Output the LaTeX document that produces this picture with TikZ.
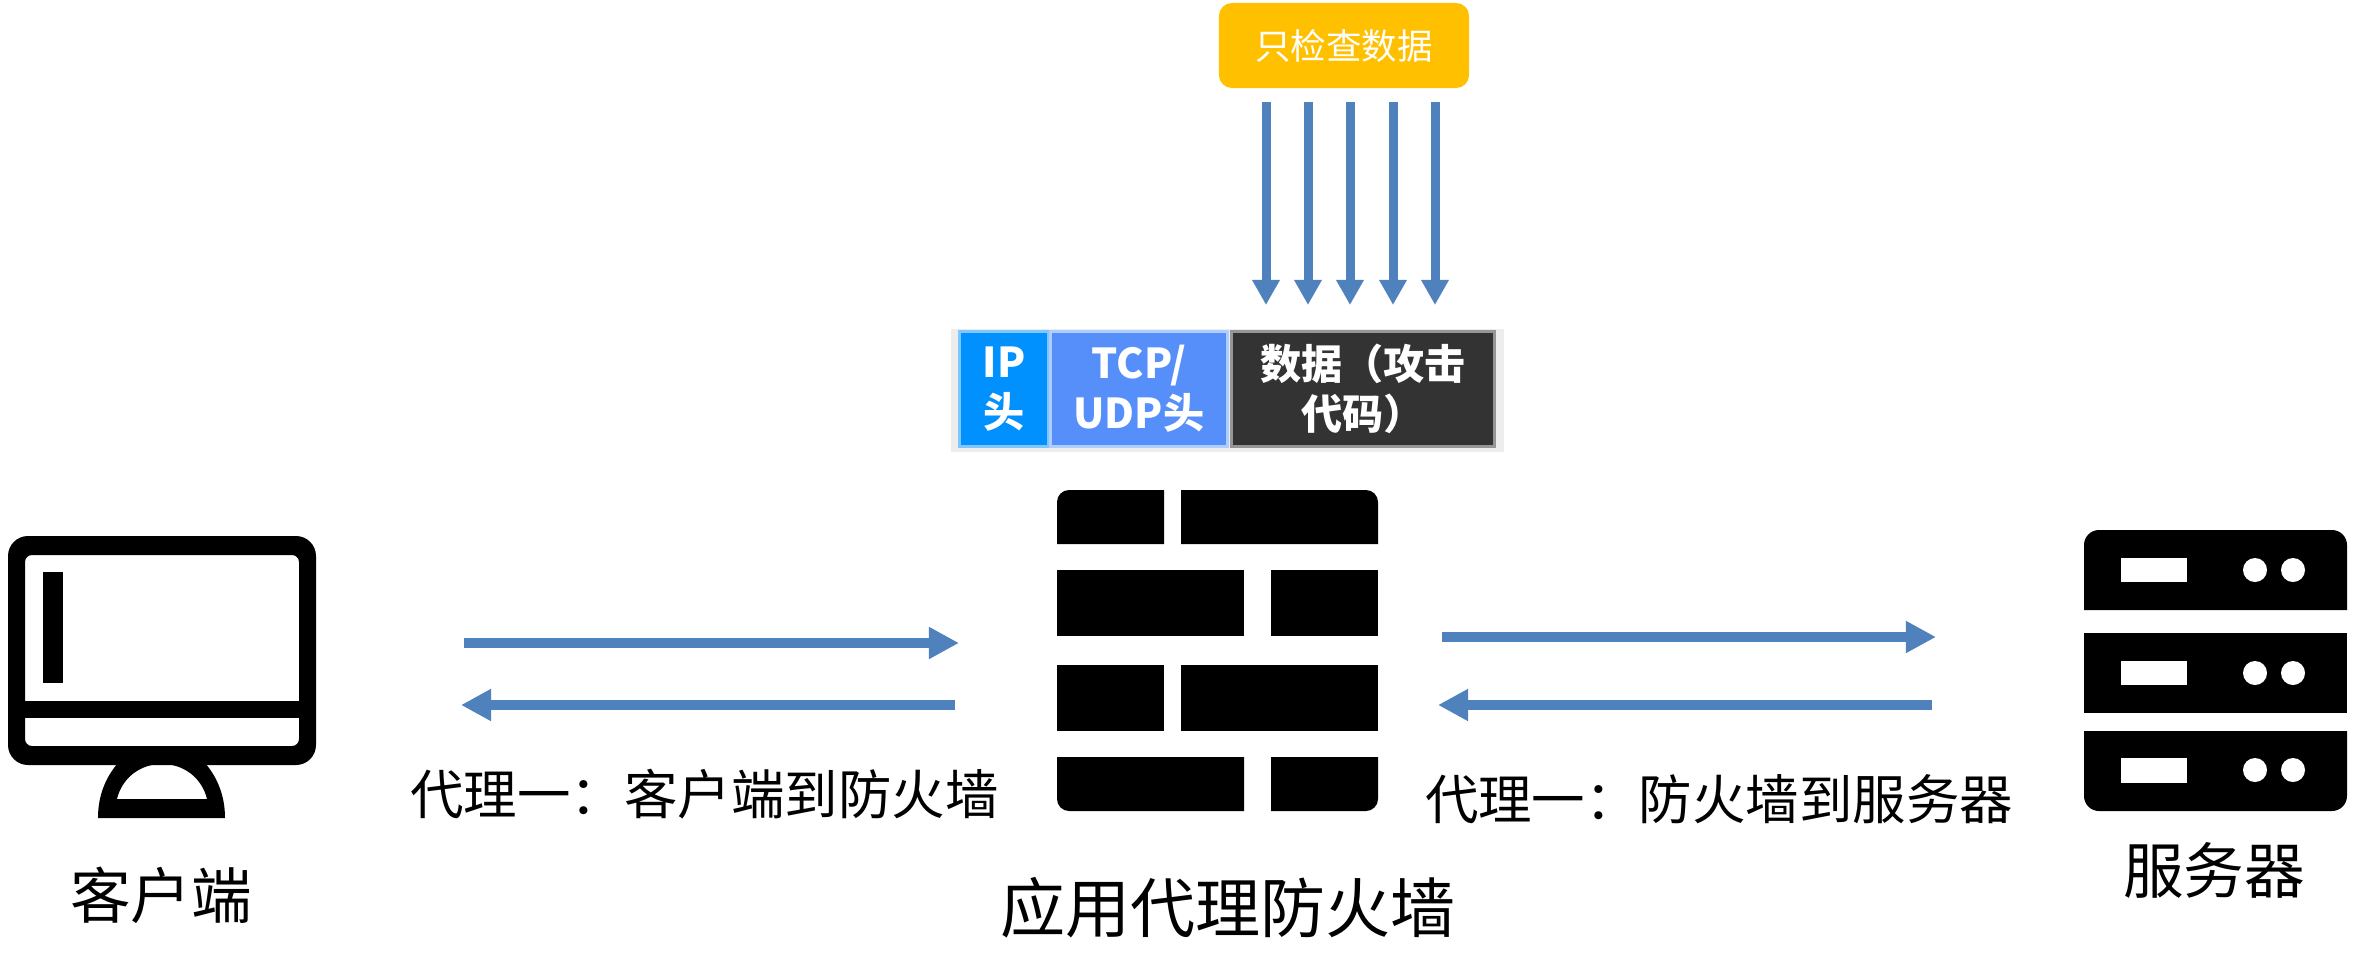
\documentclass[tikz,border=0pt]{standalone}
\usepackage{fontspec}
\setmainfont{Noto Sans CJK SC}
\usetikzlibrary{arrows.meta}
\definecolor{flowcol}{RGB}{79,129,189}
\definecolor{checkfill}{RGB}{255,192,0}
\definecolor{pktback}{RGB}{237,237,237}
\definecolor{ipfill}{RGB}{0,145,255}
\definecolor{ipline}{RGB}{128,198,255}
\definecolor{tcpfill}{RGB}{87,143,250}
\definecolor{tcpline}{RGB}{176,205,255}
\definecolor{datafill}{RGB}{51,51,51}
\definecolor{dataline}{RGB}{150,150,150}

\begin{document}
\begin{tikzpicture}[
  x=0.01cm, y=-0.01cm,
  every node/.style={inner sep=0pt, align=center},
  caption/.style={font=\fontsize{17.25pt}{20pt}\selectfont},
  title/.style={font=\fontsize{18.5pt}{22pt}\selectfont},
  proxy/.style={font=\fontsize{15.2pt}{18pt}\selectfont},
  check/.style={
    fill=checkfill, text=white, rounded corners=0.13cm,
    minimum width=2.5cm, minimum height=0.85cm,
    font=\fontsize{10.1pt}{12pt}\selectfont
  },
  cell/.style={
    line width=0.03cm, text=white, minimum height=1.14cm,
    font=\fontsize{11.7pt}{14.2pt}\selectfont\bfseries
  },
  flow/.style={
    draw=flowcol, line width=0.107cm,
    -{Triangle[length=0.3cm,width=0.3cm]}
  },
  down/.style={
    draw=flowcol, line width=0.09cm,
    -{Triangle[length=0.25cm,width=0.26cm]}
  },
]
\useasboundingbox (0,0) rectangle (2356,957);

% ---- Packet and the check box above it ----
\node (check) at (1344,45.5) [check] {只检查数据};

\fill[pktback] (951,329) rectangle (1504,452);
\node (ip)   at (1004,389) [cell, fill=ipfill,   draw=ipline,   minimum width=0.88cm] {IP\\头};
\node (tcp)  at (1139,389) [cell, fill=tcpfill,  draw=tcpline,  minimum width=1.76cm] {TCP/\\UDP头};
\node (data) at (1363,389) [cell, fill=datafill, draw=dataline, minimum width=2.62cm] {数据（攻击\\代码）};

\foreach \i/\x in {1/1266, 2/1308, 3/1350, 4/1393, 5/1435} {
  \coordinate (chk\i) at (\x,102);
  \coordinate (pkt\i) at (\x,305);
  \draw[down] (chk\i) -- (pkt\i);
}

% ---- Client screen ----
\fill[even odd rule]
  [rounded corners=0.2cm] (8,536) rectangle (316,765)
  [rounded corners=0.07cm] (25,555) rectangle (299,746);
\fill (25,701) rectangle (299,718);
\fill (43,572) rectangle (63,683);
\fill[even odd rule]
  (98,818) .. controls (98,795) and (106,777) .. (118,763) -- (205,763)
  .. controls (217,777) and (225,795) .. (225,818) -- cycle
  (117,799) .. controls (122,778) and (140,764) .. (162,764)
  .. controls (184,764) and (202,778) .. (207,799) -- cycle;

% ---- Firewall bricks ----
\fill (1057,544) [rounded corners=0.12cm] -- (1057,490) [sharp corners] -- (1164,490) -- (1164,544) -- cycle;
\fill (1181,490) [rounded corners=0.12cm] -- (1378,490) [sharp corners] -- (1378,544) -- (1181,544) -- cycle;
\foreach \xa/\xb/\ya/\yb in {1057/1244/570/636, 1271/1378/570/636,
                             1057/1164/665/731, 1181/1378/665/731}
  \fill (\xa,\ya) rectangle (\xb,\yb);
\fill (1057,757) [rounded corners=0.12cm] -- (1057,811) [sharp corners] -- (1244,811) -- (1244,757) -- cycle;
\fill (1378,757) [rounded corners=0.12cm] -- (1378,811) [sharp corners] -- (1271,811) -- (1271,757) -- cycle;

% ---- Server racks ----
\fill (2084,610) [rounded corners=0.15cm] -- (2084,530) -- (2347,530) [sharp corners] -- (2347,610) -- cycle;
\fill (2084,633) rectangle (2347,713);
\fill (2084,731) [rounded corners=0.15cm] -- (2084,811) -- (2347,811) [sharp corners] -- (2347,731) -- cycle;
\foreach \ya/\yb/\yc in {558/582/570, 661/685/673, 758/783/770} {
  \fill[white] (2121,\ya) rectangle (2187,\yb);
  \fill[white] (2255,\yc) circle (0.12cm);
  \fill[white] (2293,\yc) circle (0.12cm);
}

% ---- Labels ----
\node (client)   at (161,895)   [caption] {客户端};
\node (server)   at (2214,870)  [caption] {服务器};
\node (firewall) at (1228,908)  [title]   {应用代理防火墙};
\node (leftlab)  at (704.5,794) [proxy]   {代理一：客户端到防火墙};
\node (rightlab) at (1719,799)  [proxy]   {代理一：防火墙到服务器};

% ---- Proxy arrows ----
\coordinate (lfrom1) at (464,643);
\coordinate (lto1)   at (959,643);
\coordinate (lfrom2) at (955,705);
\coordinate (lto2)   at (461,705);
\coordinate (rfrom1) at (1442,637);
\coordinate (rto1)   at (1936,637);
\coordinate (rfrom2) at (1932,705);
\coordinate (rto2)   at (1438,705);
\foreach \a/\b in {lfrom1/lto1, lfrom2/lto2, rfrom1/rto1, rfrom2/rto2}
  \draw[flow] (\a) -- (\b);

\end{tikzpicture}
\end{document}
